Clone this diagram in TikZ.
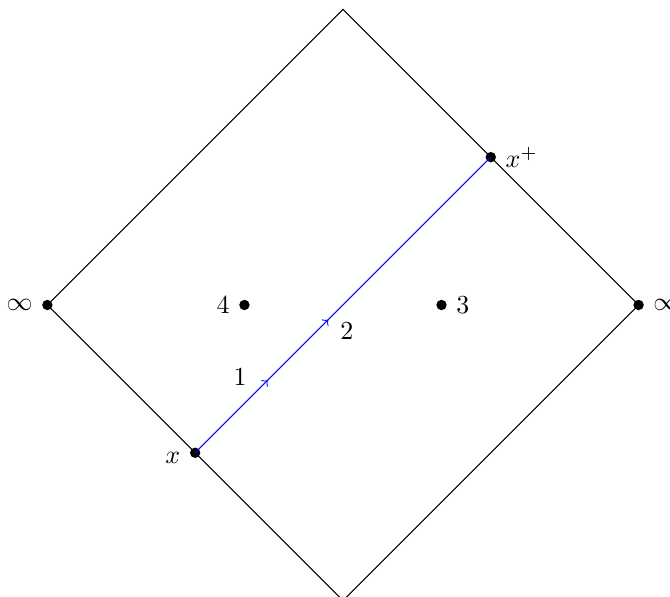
\documentclass[tikz,border=0pt]{standalone}
\usetikzlibrary{decorations.markings}

\begin{document}
\begin{tikzpicture}[>=to,x=1cm,y=1cm,
    dot/.style={circle,fill=black,inner sep=0pt,minimum size=4pt}]
  \useasboundingbox (-4.641,-3.938) rectangle (4.425,4.127);

  % corners of the diamond
  \coordinate (top) at (0,4);
  \coordinate (bottom) at (0,-4);
  \node[dot,label=left:$\infty$] (left) at (-4,0) {};
  \node[dot,label=right:$\infty$] (right) at (4,0) {};
  \draw (top)--(right.center)--(bottom)--(left.center)--cycle;

  % end points of the path
  \node[dot,label={[yshift=-2pt]left:$x$}] (x) at (-2,-2) {};
  \node[dot,label=right:$x^+$] (xp) at (2,2) {};
  \draw[blue,postaction={decorate},
        decoration={markings,
          mark=at position .245 with {\arrow{>}},
          mark=at position .45 with {\arrow{>}}}]
    (x.center)--(xp.center);
  \node (one) at (-1.393,-.981) {$1$};
  \node (two) at (.054,-.352) {$2$};

  % the two points inside
  \node[dot,label=left:$4$] (four) at (-4/3,0) {};
  \node[dot,label=right:$3$] (three) at (4/3,0) {};
\end{tikzpicture}
\end{document}
